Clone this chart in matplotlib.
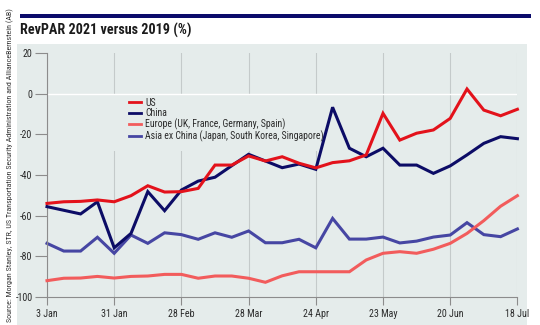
import numpy as np
import matplotlib
matplotlib.use('Agg')
import matplotlib.pyplot as plt
import matplotlib.font_manager as fm
from matplotlib.patches import Rectangle

# ---------------- data ----------------
tick_labels = ['3 Jan', '31 Jan', '28 Feb', '28 Mar', '24 Apr', '23 May', '20 Jun', '18 Jul']
weeks_per_tick = 4
y_ticks = [20, 0, -20, -40, -60, -80, -100]
y_tick_labels = ['20', '0', '-20', '-40', '-60', '-80', '-100']

us = [-54.0, -53.2, -53.0, -52.3, -53.2, -50.2, -45.3, -48.4, -48.2, -46.6,
      -35.1, -35.1, -30.6, -33.1, -31.0, -34.2, -36.5, -33.9, -33.0, -30.1,
      -9.6, -22.8, -19.4, -17.8, -12.1, 2.4, -8.0, -10.8, -7.6]
china = [-55.6, -57.4, -59.2, -53.2, -75.9, -68.8, -48.2, -57.6, -47.4, -43.0,
         -41.1, -35.4, -29.8, -33.1, -36.4, -34.6, -37.2, -6.6, -26.8, -31.0,
         -26.8, -35.1, -35.1, -39.2, -35.5, -30.1, -24.4, -21.1, -22.1]
europe = [-92.1, -90.9, -90.8, -90.0, -90.8, -90.0, -89.8, -89.0, -89.0, -90.9,
          -89.8, -89.8, -90.9, -92.9, -89.7, -87.7, -87.7, -87.7, -87.7, -81.9,
          -78.6, -77.8, -78.6, -76.6, -73.7, -68.8, -62.5, -55.4, -50.2]
asia = [-73.7, -77.5, -77.5, -70.7, -78.6, -69.6, -73.7, -68.5, -69.4, -71.7,
        -68.5, -70.7, -67.6, -73.4, -73.4, -71.7, -75.9, -61.4, -71.6, -71.6,
        -70.6, -73.5, -72.6, -70.6, -69.6, -63.5, -69.4, -70.4, -66.6]

series_names = ['US', 'China', 'Europe (UK, France, Germany, Spain)',
                'Asia ex China (Japan, South Korea, Singapore)']
series_colors = ['#e3121b', '#0c0c66', '#f25c5c', '#4646a3']

title = 'RevPAR 2021 versus 2019 (%)'
source = ('Source: Morgan Stanley, STR, US Transportation Security Administration '
          'and AllianceBernstein (AB)')

# ---------------- fonts ----------------
plt.rcParams['axes.unicode_minus'] = False
entries = fm.fontManager.ttflist
cond = None
for fam in ['Liberation Sans Narrow', 'Roboto Condensed', 'Open Sans Condensed',
            'Noto Sans', 'DejaVu Sans', 'Open Sans', 'Roboto']:
    for f in entries:
        if f.name == fam and (fam.endswith('Narrow') or fam.endswith('Condensed')
                              or str(f.stretch) in ('condensed', 'semi-condensed', 'extra-condensed')
                              or 'Condensed' in f.fname or 'Narrow' in f.fname):
            if fam.endswith('Narrow') or fam.endswith('Condensed'):
                cond = dict(family=fam)
            else:
                cond = dict(family=fam, stretch='condensed')
            break
    if cond:
        break
if cond is None:
    cond = dict(family='DejaVu Sans')

# ---------------- figure ----------------
W, H = 540, 325
fig = plt.figure(figsize=(W / 100, H / 100), dpi=100)
fig.patch.set_facecolor('white')


def fx(x):
    return x / W


def fy(y):
    return 1 - y / H


bg = '#e5eceb'
fig.patches.append(Rectangle((fx(17), 0), fx(527) - fx(17), fy(43.5),
                             transform=fig.transFigure, facecolor=bg,
                             edgecolor='none', zorder=-10))
fig.patches.append(Rectangle((fx(20), fy(17.5)), fx(531) - fx(20), fy(14) - fy(17.5),
                             transform=fig.transFigure, facecolor='#0b0b6b',
                             edgecolor='none', zorder=-10))

t_title = fig.text(fx(20), fy(35), title, ha='left', va='baseline',
                   fontsize=10.2, fontweight='bold', color='#1b1b1b', **cond)
t_src = fig.text(fx(10.5), fy(322), source, rotation=90, ha='center', va='bottom',
                 fontsize=6.5, color='#333333', **cond)

ax = fig.add_axes([fx(47), fy(296.7), fx(517.4) - fx(47), fy(53.3) - fy(296.7)])
ax.set_zorder(5)
ax.patch.set_alpha(0)
n = len(us)
x = np.arange(n)
ax.set_xlim(0, n - 1)
ax.set_ylim(-100, 20)

ax.set_xticks(np.arange(0, n, weeks_per_tick))
ax.set_xticklabels(tick_labels, **cond)
ax.set_yticks(y_ticks)
ax.set_yticklabels(y_tick_labels, **cond)
ax.tick_params(axis='x', length=5.8, width=0.8, color='#8c8c8c', pad=3,
               labelsize=7.2, labelcolor='#2a2a2a')
ax.tick_params(axis='y', length=9, width=0.8, color='#8c8c8c', pad=1.5,
               labelsize=7.2, labelcolor='#2a2a2a')
for s in ['top', 'right']:
    ax.spines[s].set_visible(False)
for s in ['left', 'bottom']:
    ax.spines[s].set_color('#8c8c8c')
    ax.spines[s].set_linewidth(0.8)
ax.set_axisbelow(True)
ax.grid(axis='x', color='#c4caca', linewidth=0.8)
ax.axhline(0, color='white', linewidth=1.0, zorder=1.2)

# legend cover (hides grid lines behind legend)
ax.add_artist(Rectangle((fx(104), fy(151)), fx(330) - fx(104), fy(94) - fy(151),
                        transform=fig.transFigure, facecolor=bg, edgecolor='none',
                        zorder=1.1))

data = [us, china, europe, asia]
zorders = [5, 4, 3, 2]
handles = []
for vals, name, col, z in zip(data, series_names, series_colors, zorders):
    h, = ax.plot(x, vals, color=col, linewidth=2.2, label=name, zorder=z,
                 solid_joinstyle='miter', clip_on=False)
    handles.append(h)

leg = ax.legend(handles=handles, loc='upper left',
                bbox_to_anchor=(fx(129), fy(97.5)), bbox_transform=fig.transFigure,
                frameon=False, borderpad=0, borderaxespad=0, handlelength=1.25,
                handletextpad=0.4, labelspacing=0.05, prop=dict(size=7, **cond))
for t in leg.get_texts():
    t.set_color('#2a2a2a')
for lh in leg.get_lines():
    lh.set_linewidth(2.0)

# fit source text length to the reference
fig.canvas.draw()
r = fig.canvas.get_renderer()
hsrc = t_src.get_window_extent(r).height
t_src.set_fontsize(t_src.get_fontsize() * 312 / hsrc)

fig.savefig('out.png', dpi=100, facecolor='white')
